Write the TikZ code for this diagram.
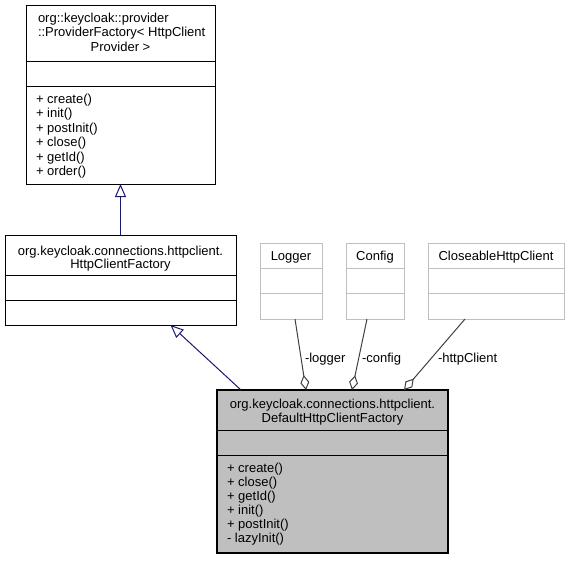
\documentclass[tikz,border=0pt]{standalone}
\usepackage{fontspec}
\setmainfont{Liberation Sans}
\usetikzlibrary{arrows.meta}
\definecolor{edgeblue}{HTML}{191970}
\definecolor{aggr}{HTML}{404040}
\definecolor{greyfill}{HTML}{BFBFBF}
\definecolor{greyline}{HTML}{BFBFBF}
\begin{document}
\begin{tikzpicture}[x=1pt,y=-1pt,
  every node/.style={font=\fontsize{13}{14}\selectfont, inner sep=0, outer sep=0},
  clsbox/.style={draw=black, line width=1, fill=white, anchor=north west},
  curbox/.style={draw=black, line width=1.2, fill=greyfill, anchor=north west},
  extbox/.style={draw=greyline, line width=1, fill=white, anchor=north west},
  divline/.style={draw=black, line width=1},
  extdiv/.style={draw=greyline, line width=1},
  txt/.style={anchor=base west},
  ctxt/.style={anchor=base},
  inherit/.style={draw=edgeblue, line width=1, -{Triangle[open, length=13, width=11]}},
  aggreg/.style={draw=aggr, line width=1, {Diamond[open, length=15, width=9]}-}
]
\useasboundingbox (0,0) rectangle (570,560);

% ProviderFactory
\node[clsbox, minimum width=189, minimum height=179] (pf) at (26,5) {};
\draw[divline] (pf.west |- 0,61) -- (pf.east |- 0,61);
\draw[divline] (pf.west |- 0,86) -- (pf.east |- 0,86);
\node[txt] (pft1) at (38,22) {org::keycloak::provider};
\node[txt] (pft2) at (38,36.5) {::ProviderFactory< HttpClient};
\node[ctxt] (pft3) at (120.5,51) {Provider >};
\node[txt] (pfm1) at (36,103) {+ create()};
\node[txt] (pfm2) at (36,117.5) {+ init()};
\node[txt] (pfm3) at (36,132) {+ postInit()};
\node[txt] (pfm4) at (36,146.5) {+ close()};
\node[txt] (pfm5) at (36,161) {+ getId()};
\node[txt] (pfm6) at (36,175.5) {+ order()};

% HttpClientFactory
\node[clsbox, minimum width=231, minimum height=90] (hcf) at (5,235) {};
\draw[divline] (hcf.west |- 0,275) -- (hcf.east |- 0,275);
\draw[divline] (hcf.west |- 0,300) -- (hcf.east |- 0,300);
\node[ctxt] (hcft1) at (120.5,255) {org.keycloak.connections.httpclient.};
\node[ctxt] (hcft2) at (120.5,268.5) {HttpClientFactory};

% Logger
\node[extbox, minimum width=62, minimum height=76] (lg) at (260,243) {};
\draw[extdiv] (lg.west |- 0,268) -- (lg.east |- 0,268);
\draw[extdiv] (lg.west |- 0,293) -- (lg.east |- 0,293);
\node[ctxt] (lgt) at (291,260) {Logger};

% Config
\node[extbox, minimum width=58, minimum height=76] (cf) at (346,243) {};
\draw[extdiv] (cf.west |- 0,268) -- (cf.east |- 0,268);
\draw[extdiv] (cf.west |- 0,293) -- (cf.east |- 0,293);
\node[ctxt] (cft) at (375,260) {Config};

% CloseableHttpClient
\node[extbox, minimum width=136, minimum height=76] (ch) at (428,243) {};
\draw[extdiv] (ch.west |- 0,268) -- (ch.east |- 0,268);
\draw[extdiv] (ch.west |- 0,293) -- (ch.east |- 0,293);
\node[ctxt] (cht) at (496,260) {CloseableHttpClient};

% DefaultHttpClientFactory
\node[curbox, minimum width=231, minimum height=163] (def) at (217,390) {};
\draw[divline] (def.west |- 0,430) -- (def.east |- 0,430);
\draw[divline] (def.west |- 0,455) -- (def.east |- 0,455);
\node[ctxt] (deft1) at (332.5,408) {org.keycloak.connections.httpclient.};
\node[ctxt] (deft2) at (332.5,422) {DefaultHttpClientFactory};
\node[txt] (defm1) at (227,472) {+ create()};
\node[txt] (defm2) at (227,486) {+ close()};
\node[txt] (defm3) at (227,500) {+ getId()};
\node[txt] (defm4) at (227,514) {+ init()};
\node[txt] (defm5) at (227,528) {+ postInit()};
\node[txt] (defm6) at (227,542) {- lazyInit()};

% inheritance
\draw[inherit] (hcf.north) -- (pf.south);
\draw[inherit] ([xshift=-91.5]def.north) -- ([xshift=50]hcf.south);

% aggregation
\draw[aggreg] ([xshift=-26.5]def.north) -- ([xshift=4]lg.south);
\draw[aggreg] ([xshift=19.5]def.north) -- ([xshift=-8]cf.south);
\draw[aggreg] ([xshift=71.5]def.north) -- ([xshift=-31]ch.south);
\node[txt] (l1) at (305,362) {-logger};
\node[txt] (l2) at (362,362) {-config};
\node[txt] (l3) at (438,362) {-httpClient};
\end{tikzpicture}
\end{document}
